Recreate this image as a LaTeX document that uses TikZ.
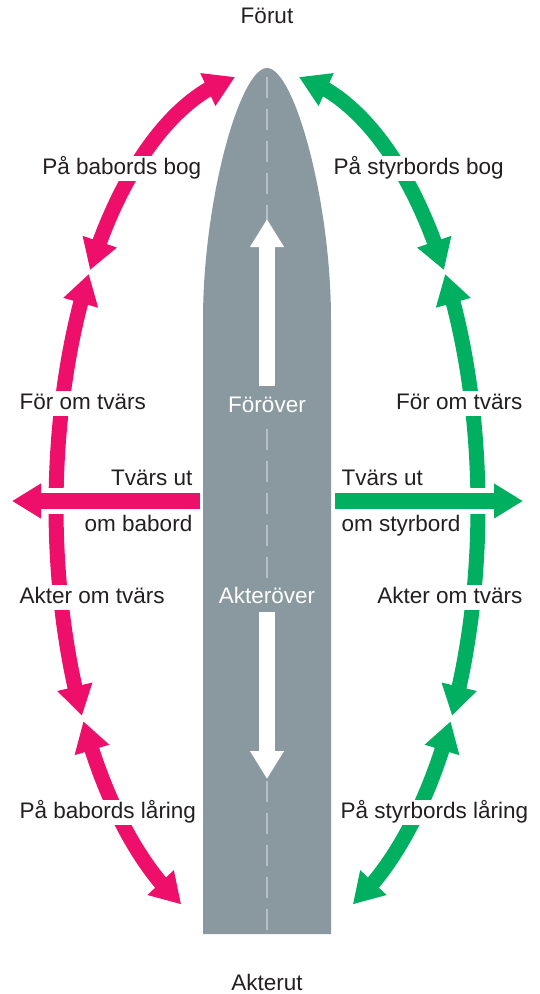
\documentclass[tikz,border=0pt]{standalone}
\usepackage{fontspec}
\setmainfont{Liberation Sans}
\usetikzlibrary{arrows.meta,bending,calc}
\definecolor{pinkc}{HTML}{EE0F6A}
\definecolor{greenc}{HTML}{00AF5F}
\definecolor{hullc}{HTML}{8A99A0}
\definecolor{textc}{HTML}{231F20}
\definecolor{dashc}{HTML}{B4C0C4}
\tikzset{
  lbl/.style={font=\fontsize{22.5}{27}\selectfont, text=textc, inner xsep=1.5pt, inner ysep=2pt, text height=16pt, text depth=5pt},
  wlbl/.style={lbl, fill=white},
  hlbl/.style={lbl, text=white, fill=hullc},
  bigtip/.style={Triangle[length=30pt,width=34pt,flex]},
  arcpink/.style={pinkc, line width=15pt, {Triangle[length=30pt,width=34pt,flex]}-{Triangle[length=30pt,width=34pt,flex]}},
  arcgreen/.style={greenc, line width=15pt, {Triangle[length=30pt,width=34pt,flex]}-{Triangle[length=30pt,width=34pt,flex]}},
  whitearrow/.style={white, line width=16pt, -{Triangle[length=28pt,width=32pt]}},
  beamarrow/.style={line width=16pt, -{Triangle[length=29pt,width=33pt]}},
  gapline/.style={white, line width=26pt},
}
\begin{document}
\begin{tikzpicture}[x=1pt,y=-1pt]
\useasboundingbox (0,0) rectangle (540,994);
% hull
\coordinate (bow) at (267,68);
\fill[hullc] (203,934) -- (203,320) .. controls (203,200) and (240,68) .. (bow)
  .. controls (294,68) and (331,200) .. (331,320) -- (331,934) -- cycle;
\coordinate (dtop) at (267,77);
\coordinate (dbot) at (267,934);
\draw[dashc, line width=2.5pt, dash pattern=on 21pt off 11pt] (dtop) -- (dbot);
% fore / aft arrows
\coordinate (fs) at (267,386);
\coordinate (ft) at (267,219);
\coordinate (as) at (267,612);
\coordinate (at2) at (267,779);
\draw[whitearrow] (fs) -- (ft);
\draw[whitearrow] (as) -- (at2);
\node[hlbl, anchor=base] (forover) at (267,412) {Föröver};
\node[hlbl, anchor=base] (akterover) at (267,603) {Akteröver};
% arcs
\coordinate (C) at (267,507);
\draw[arcpink] ($(C)+(-98.7:211 and 435)$) arc[start angle=-98.7, end angle=-147, x radius=211, y radius=435];
\draw[arcpink] ($(C)+(-147.6:211 and 435)$) arc[start angle=-147.6, end angle=-208.7, x radius=211, y radius=435];
\draw[arcpink] ($(C)+(-209.5:211 and 435)$) arc[start angle=-209.5, end angle=-246, x radius=211, y radius=435];
\draw[arcgreen] ($(C)+(-81.3:211 and 435)$) arc[start angle=-81.3, end angle=-33, x radius=211, y radius=435];
\draw[arcgreen] ($(C)+(-32.4:211 and 435)$) arc[start angle=-32.4, end angle=28.7, x radius=211, y radius=435];
\draw[arcgreen] ($(C)+(29.5:211 and 435)$) arc[start angle=29.5, end angle=66, x radius=211, y radius=435];
% beam arrows
\coordinate (ls) at (200,501);
\coordinate (lg) at (41,501);
\coordinate (lt) at (12,501);
\coordinate (rs) at (335,501);
\coordinate (rg) at (493,501);
\coordinate (rt) at (523,501);
\draw[gapline] (ls) -- (lg);
\draw[gapline] (rs) -- (rg);
\draw[beamarrow, pinkc] (ls) -- (lt);
\draw[beamarrow, greenc] (rs) -- (rt);
% labels
\node[lbl, anchor=base] (forut) at (267,23) {Förut};
\node[lbl, anchor=base] (akterut) at (267,990) {Akterut};
\node[wlbl, anchor=base east] (pbb) at (203,174) {På babords bog};
\node[wlbl, anchor=base west] (psb) at (332,174) {På styrbords bog};
\node[wlbl, anchor=base west] (fotl) at (18,409) {För om tvärs};
\node[wlbl, anchor=base east] (fotr) at (524,409) {För om tvärs};
\node[lbl, anchor=base east] (tul) at (194,485) {Tvärs ut};
\node[lbl, anchor=base east] (omb) at (194,531) {om babord};
\node[lbl, anchor=base west] (tur) at (340,485) {Tvärs ut};
\node[lbl, anchor=base west] (oms) at (340,531) {om styrbord};
\node[wlbl, anchor=base west] (aotl) at (18,603) {Akter om tvärs};
\node[wlbl, anchor=base east] (aotr) at (524,603) {Akter om tvärs};
\node[wlbl, anchor=base west] (pbl) at (18,818) {På babords låring};
\node[wlbl, anchor=base west] (psl) at (339,818) {På styrbords låring};
\end{tikzpicture}
\end{document}
